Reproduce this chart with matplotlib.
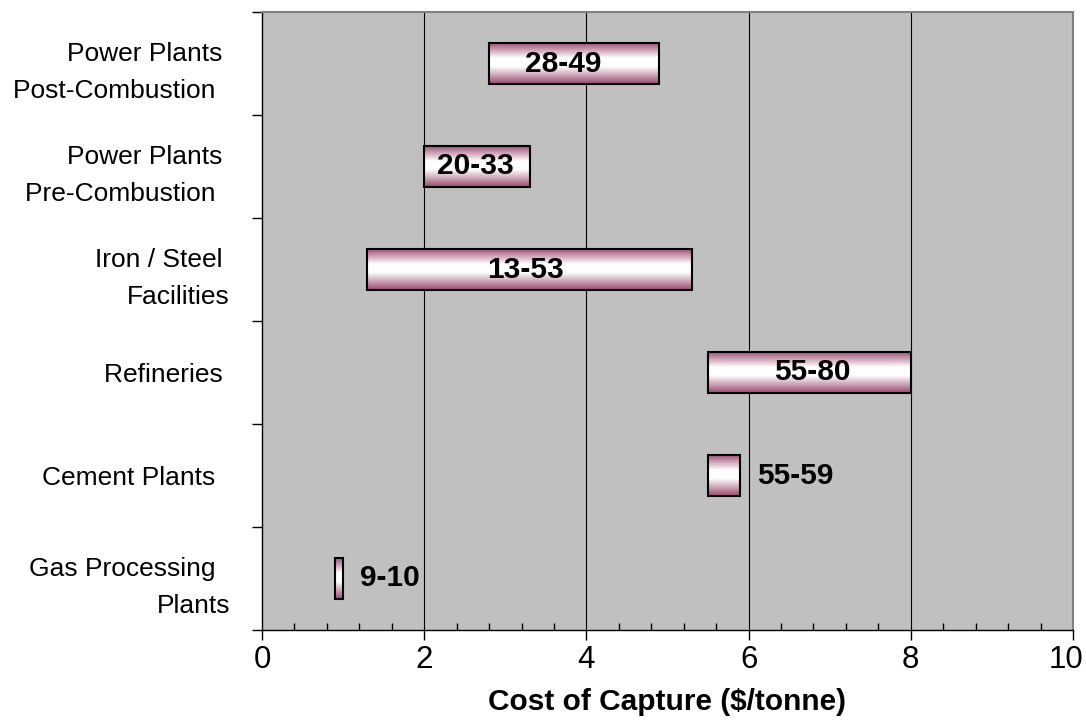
import numpy as np
import matplotlib.pyplot as plt
import matplotlib.transforms as mtransforms
from matplotlib.colors import LinearSegmentedColormap

plt.rcParams['font.family'] = ['Liberation Sans', 'DejaVu Sans']

# capture cost ranges per source
sources = ["Power Plants \nPost-Combustion  ", "Power Plants \nPre-Combustion  ",
           "Iron / Steel \nFacilities", "Refineries ", "Cement Plants  ",
           "Gas Processing  \nPlants"]
cost_low = [28, 20, 13, 55, 55, 9]
cost_high = [49, 33, 53, 80, 59, 10]
label_outside = [False, False, False, False, True, True]
label_shift = [-8, -1, -3, 2, 0, 0]   # nudge of in-bar labels, points

x_ticks = [0, 2, 4, 6, 8, 10]

BG = "#C0C0C0"
bar_cmap = LinearSegmentedColormap.from_list(
    "tube", [(0.0, "#9A4870"), (0.38, "#FFFFFF"), (0.58, "#FFFFFF"), (1.0, "#9A4870")])

fig = plt.figure(figsize=(10.86, 7.2), dpi=100)
ax = fig.add_axes([262 / 1086, 1 - 630 / 720, (1073 - 262) / 1086, (630 - 12) / 720])
ax.set_facecolor(BG)

n = len(sources)

# vertical grid
for xv in x_ticks[1:-1]:
    ax.axvline(xv, color="black", linewidth=0.8, zorder=1)

grad = np.linspace(0, 1, 256).reshape(-1, 1)
bar_h = 0.4
for i, (lo, hi) in enumerate(zip(cost_low, cost_high)):
    x0, x1 = lo / 10, hi / 10
    yc = i + 0.5
    ax.imshow(grad, cmap=bar_cmap, aspect="auto", interpolation="bilinear",
              extent=(x0, x1, yc + bar_h / 2, yc - bar_h / 2), zorder=2)
    ax.add_patch(plt.Rectangle((x0, yc - bar_h / 2), x1 - x0, bar_h,
                               fill=False, edgecolor="black", linewidth=1.5, zorder=3))
    txt = f"{lo}-{hi}"
    if label_outside[i]:
        ax.annotate(txt, xy=(x1, yc), xytext=(12, 0), textcoords="offset points",
                    ha="left", va="center", fontsize=21.5, fontweight="bold", zorder=4)
    else:
        ax.annotate(txt, xy=((x0 + x1) / 2, yc), xytext=(label_shift[i], 0),
                    textcoords="offset points", ha="center", va="center",
                    fontsize=21.5, fontweight="bold", zorder=4)

ax.set_xlim(0, 10)
ax.set_ylim(n, 0)

# axes frame
for side in ["top", "right"]:
    ax.spines[side].set_color("#808080")
    ax.spines[side].set_linewidth(1.5)
for side in ["left", "bottom"]:
    ax.spines[side].set_color("black")
    ax.spines[side].set_linewidth(1.0)

ax.set_xticks(x_ticks)
ax.set_xticklabels([str(v) for v in x_ticks], fontsize=22.5)
ax.set_xticks(np.arange(0, 10.01, 0.4), minor=True)
ax.tick_params(axis="x", which="major", direction="out", length=7, width=1, pad=4)
ax.tick_params(axis="x", which="minor", direction="in", length=5, width=1)
# keep the last tick label inside the figure
last = ax.get_xticklabels()[-1]
last.set_transform(last.get_transform() +
                   mtransforms.ScaledTranslation(-7 / 100, 0, fig.dpi_scale_trans))

ax.set_yticks(np.arange(0, n + 1))
ax.set_yticklabels([])
ax.set_yticks(np.arange(n) + 0.5, minor=True)
ax.set_yticklabels(sources, minor=True, fontsize=19, multialignment="right",
                   linespacing=1.7)
ax.tick_params(axis="y", which="major", direction="out", length=7, width=1)
ax.tick_params(axis="y", which="minor", length=0, pad=23)

ax.set_xlabel("Cost of Capture ($/tonne)", fontsize=21.5, fontweight="bold", labelpad=9)

fig.savefig("out.png", dpi=100)
